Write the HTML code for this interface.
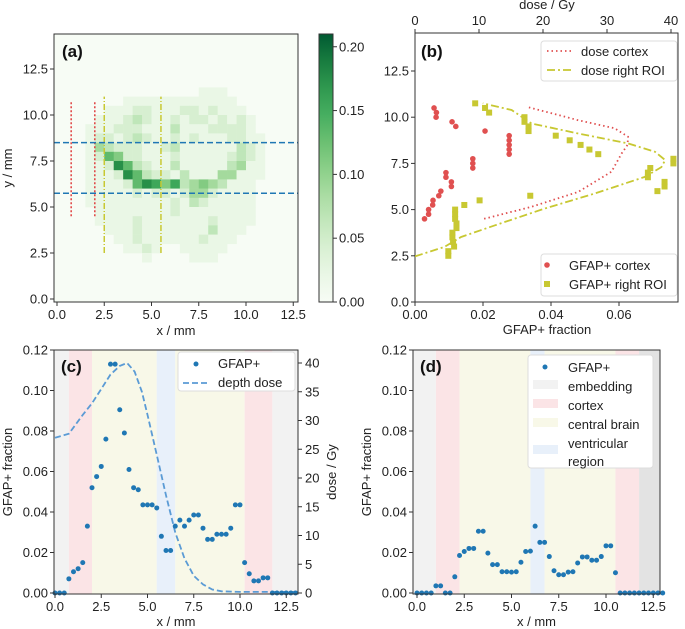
<!DOCTYPE html>
<html><head><meta charset="utf-8"><style>
html,body{margin:0;padding:0;background:#fff;}
svg{display:block;font-family:"Liberation Sans","DejaVu Sans",sans-serif;}
</style></head><body>
<svg id="fig" width="685" height="629" viewBox="0 0 685 629"></svg>
<script>
// ---------- DATA ----------
// Panel (a) heatmap: rows top (y 11.0-11.5) to bottom (y 2.0-2.5), cols x 1.0..11.5, step 0.5mm; digit*0.022 = GFAP+ fraction
const heatRows = [
"000000000000011100000",
"000001111111111110000",
"000111221112212111000",
"001112321121221212100",
"011122211131112222100",
"012212321121211122110",
"014322211231111113210",
"012652211121111123210",
"011286321131111134110",
"011128632213111441110",
"011112687573454311100",
"011111212212442111100",
"011111111121321111100",
"001111111121111111100",
"001111211111112111100",
"000111211111113111000",
"000011211111121110000",
"000001121001111100000",
"000000010000111000000"];
const cbTicks = [0, 0.05, 0.10, 0.15, 0.20];
// Panel (b)
const cortexY = [4.5,4.75,5.0,5.25,5.5,5.75,6.0,6.25,6.5,6.75,7.0,7.25,7.5,7.75,8.0,8.25,8.5,8.75,9.0,9.25,9.5,9.75,10.0,10.25,10.5];
const cortexGFAP = [0.0028,0.004,0.004,0.0052,0.0053,0.007,0.0076,0.0107,0.0107,0.0091,0.0091,0.017,0.017,0.017,0.0277,0.0277,0.0277,0.0277,0.0277,0.0206,0.012,0.0109,0.0062,0.0063,0.0056];
const roiY = [2.5,2.75,3.0,3.25,3.5,3.75,4.0,4.25,4.5,4.75,5.0,5.25,5.5,5.75,6.0,6.25,6.5,6.75,7.0,7.25,7.5,7.75,8.0,8.25,8.5,8.75,9.0,9.25,9.5,9.75,10.0,10.25,10.5,10.75];
const roiGFAP = [0.0098,0.0098,0.0115,0.0112,0.011,0.011,0.0122,0.0122,0.0118,0.0118,0.0118,0.0145,0.019,0.0339,0.0713,0.0734,0.0734,0.0685,0.0685,0.0692,0.076,0.076,0.0539,0.0513,0.0487,0.0455,0.0414,0.0334,0.0334,0.0322,0.0322,0.0218,0.0206,0.0177];
const doseCortexY = [4.5,5.15,5.96,7.05,8.04,8.5,8.94,9.4,9.84,10.53];
const doseCortexGy = [10.8,18.2,25.5,30.7,32.3,33.2,33.3,31.2,25.5,17.8];
const doseRoiY = [2.47,2.98,3.52,4.15,5.06,5.87,6.77,7.3,7.68,8.13,8.58,9.12,9.66,10.39,10.75];
const doseRoiGy = [0,4.6,7.2,12.5,20.3,28.1,35.9,38.5,39.1,37.5,33.3,25.5,18.2,15.1,10.6];
// Panel (c)
const cGFAP = [0,0,0,0.007,0.0105,0.012,0.015,0.033,0.052,0.0575,0.0625,0.076,0.113,0.113,0.0905,0.079,0.061,0.052,0.051,0.0435,0.0435,0.0435,0.042,0.028,0.021,0.021,0.033,0.036,0.033,0.036,0.0385,0.0385,0.032,0.0265,0.0265,0.029,0.029,0.029,0.032,0.0435,0.0435,0.015,0.0095,0.006,0.006,0.0075,0.0075,0,0,0,0,0,0];
const depthX = [0,0.75,1.5,2,2.5,3,3.5,3.9,4.3,4.7,5,5.5,6,6.5,7,7.5,8,8.5,9,10,11,12,13];
const depthGy = [27,27.7,31,33,35.5,38,39.5,40,38.5,35,31,24,17,10.5,6,3,1.5,0.6,0.3,0.2,0.2,0.2,0.2];
const cRegions = [[-0.3,0.75,'emb'],[0.75,2,'cor'],[2,5.5,'cen'],[5.5,6.5,'ven'],[6.5,10.25,'cen'],[10.25,11.75,'cor'],[11.75,13.3,'emb']];
// Panel (d)
const dGFAP = [0,0,0,0,0.0035,0.0035,0,0,0.008,0.0185,0.0205,0.022,0.022,0.0305,0.0305,0.0197,0.014,0.014,0.0105,0.0105,0.0103,0.0105,0.0152,0.0205,0.0207,0.033,0.025,0.025,0.018,0.011,0.009,0.009,0.0103,0.0105,0.0148,0.0178,0.0178,0.0162,0.0162,0.018,0.0233,0.0233,0.01,0,0,0,0,0,0,0,0,0,0];
const dRegions = [[-0.3,1,'emb'],[1,2.25,'cor'],[2.25,6,'cen'],[6,6.75,'ven'],[6.75,10.5,'cen'],[10.5,11.75,'cor'],[11.75,13.3,'emb2']];
const yTicksCD = [0,0.02,0.04,0.06,0.08,0.10,0.12];
const xTicksMM = [0,2.5,5,7.5,10,12.5];

// ---------- helpers ----------
const NS='http://www.w3.org/2000/svg';
const svg=document.getElementById('fig');
function mk(tag,attrs,parent){const e=document.createElementNS(NS,tag);for(const k in attrs)e.setAttribute(k,attrs[k]);(parent||svg).appendChild(e);return e;}
function txt(x,y,s,anchor,size,extra){const t=mk('text',Object.assign({x:x,y:y,'text-anchor':anchor||'middle','font-size':size||13,fill:'#222'},extra||{}));t.textContent=s;return t;}
const regionColor={emb:'#f2f2f2',cor:'#fbe4e6',cen:'#f8f8e8',ven:'#e8f0fa',emb2:'#e3e3e3'};
function greens(v){const stops=[[0,[247,252,245]],[0.03,[229,245,224]],[0.06,[199,233,192]],[0.09,[161,217,155]],[0.12,[116,196,118]],[0.15,[65,171,93]],[0.18,[35,139,69]],[0.21,[0,90,50]]];
 v=Math.max(0,Math.min(0.21,v));for(let i=1;i<stops.length;i++){if(v<=stops[i][0]){const a=stops[i-1],b=stops[i];const f=(v-a[0])/(b[0]-a[0]);const c=a[1].map((q,j)=>Math.round(q+(b[1][j]-q)*f));return 'rgb('+c.join(',')+')';}}return 'rgb(0,68,27)';}
function fmt(v,d){return v.toFixed(d);}

// ---------- Panel (a) ----------
const ax=v=>57+18.9*v, ay=v=>299-18.4*v;
mk('rect',{x:54,y:34,width:244,height:268,fill:'#f7fcf5'});
heatRows.forEach((row,j)=>{for(let i=0;i<row.length;i++){const d=+row[i];if(!d)continue;
 const x0=1+0.5*i, y1=11.5-0.5*j;
 const r=mk('rect',{x:ax(x0),y:ay(y1),width:ax(x0+0.5)-ax(x0)+0.3,height:ay(y1-0.5)-ay(y1)+0.3,fill:greens(d*0.022)});
 
 }});
[[0.75,'#e04040','2,2',4.5,10.7],[2.0,'#e04040','2,2',4.5,10.7],[2.5,'#c8c832','6,2,1,2',2.5,11],[5.5,'#c8c832','6,2,1,2',2.5,11]].forEach(l=>{
 const e=mk('line',{x1:ax(l[0]),x2:ax(l[0]),y1:ay(l[3]),y2:ay(l[4]),stroke:l[1],'stroke-width':1.5,'stroke-dasharray':l[2]});
 
 });
[8.5,5.75].forEach(y=>{const e=mk('line',{x1:54,x2:298,y1:ay(y),y2:ay(y),stroke:'#1f77b4','stroke-width':1.5,'stroke-dasharray':'6,3'});
 
 });
mk('rect',{x:54,y:34,width:244,height:268,fill:'none',stroke:'#333','stroke-width':1});
xTicksMM.forEach(v=>{mk('line',{x1:ax(v),x2:ax(v),y1:302,y2:306,stroke:'#333'});txt(ax(v),319,fmt(v,1));});
[0,2.5,5,7.5,10,12.5].forEach(v=>{mk('line',{x1:50,x2:54,y1:ay(v),y2:ay(v),stroke:'#333'});txt(48,ay(v)+4.5,fmt(v,1),'end');});
txt(176,335,'x / mm');
txt(12,168,'y / mm','middle',13,{transform:'rotate(-90 12 168)'});
txt(62,57,'(a)','start',17,{'font-weight':'bold',fill:'#111'});
// colorbar
const grad=mk('linearGradient',{id:'cbg',x1:0,y1:1,x2:0,y2:0},mk('defs',{}));
for(let k=0;k<=10;k++){mk('stop',{offset:k/10,'stop-color':greens(0.21*k/10)},grad);}
mk('rect',{x:319,y:34,width:14,height:268,fill:'url(#cbg)',stroke:'#333'});
const cy=v=>302-268*v/0.21;
cbTicks.forEach(v=>{mk('line',{x1:333,x2:337,y1:cy(v),y2:cy(v),stroke:'#333'});txt(339,cy(v)+4.5,fmt(v,2),'start');});

// ---------- Panel (b) ----------
const bx=v=>415+3400*v, by=v=>302-18.48*v, bd=v=>415+6.4*v;
mk('rect',{x:415,y:33,width:263,height:269,fill:'#fff',stroke:'#333'});
function pathFrom(xs,ys){return xs.map((x,i)=>(i?'L':'M')+x.toFixed(1)+','+ys[i].toFixed(1)).join('');}
const pc=mk('path',{d:pathFrom(doseCortexGy.map(bd),doseCortexY.map(by)),fill:'none',stroke:'#e05050','stroke-width':1.8,'stroke-dasharray':'1.5,3'});

const pr=mk('path',{d:pathFrom(doseRoiGy.map(bd),doseRoiY.map(by)),fill:'none',stroke:'#c8c832','stroke-width':1.8,'stroke-dasharray':'8,3,2,3'});

cortexGFAP.forEach((v,i)=>{const c=mk('circle',{cx:bx(v),cy:by(cortexY[i]),r:2.8,fill:'#e05050'});
 
 });
roiGFAP.forEach((v,i)=>{const c=mk('rect',{x:bx(v)-3,y:by(roiY[i])-3,width:6,height:6,fill:'#c8c832'});
 
 });
[0,0.02,0.04,0.06].forEach(v=>{mk('line',{x1:bx(v),x2:bx(v),y1:302,y2:306,stroke:'#333'});txt(bx(v),319,fmt(v,2));});
[0,2.5,5,7.5,10,12.5].forEach(v=>{mk('line',{x1:411,x2:415,y1:by(v),y2:by(v),stroke:'#333'});txt(409,by(v)+4.5,fmt(v,1),'end');});
[0,10,20,30,40].forEach(v=>{mk('line',{x1:bd(v),x2:bd(v),y1:29,y2:33,stroke:'#333'});txt(bd(v),25,String(v));});
txt(547,9,'dose / Gy');
txt(547,334,'GFAP+ fraction');
txt(421,57,'(b)','start',17,{'font-weight':'bold',fill:'#111'});
const lb1=mk('g',{});
mk('rect',{x:541,y:41,width:136,height:40,rx:3,fill:'#fff',stroke:'#ddd'},lb1);
mk('line',{x1:547,x2:573,y1:51,y2:51,stroke:'#e05050','stroke-width':1.8,'stroke-dasharray':'1.5,3'},lb1);
mk('line',{x1:547,x2:573,y1:70,y2:70,stroke:'#c8c832','stroke-width':1.8,'stroke-dasharray':'8,3,2,3'},lb1);
lb1.appendChild(txt(581,56,'dose cortex','start'));lb1.appendChild(txt(581,75,'dose right ROI','start'));
const lb2=mk('g',{});
mk('rect',{x:541,y:254,width:136,height:42,rx:3,fill:'#fff',stroke:'#ddd'},lb2);
mk('circle',{cx:547,cy:265,r:2.8,fill:'#e05050'},lb2);
mk('rect',{x:544,y:281,width:6,height:6,fill:'#c8c832'},lb2);
lb2.appendChild(txt(569,270,'GFAP+ cortex','start'));lb2.appendChild(txt(569,289,'GFAP+ right ROI','start'));

// ---------- Panels (c) & (d) ----------
function panelCD(opts){
 const X=v=>opts.x0+opts.kx*v, Y=v=>593-2025*v;
 const L=opts.left,R=opts.right;
 opts.regions.forEach(r=>{const a=Math.max(L,X(r[0])),b=Math.min(R,X(r[1]));
  const e=mk('rect',{x:a,y:350,width:b-a,height:244,fill:regionColor[r[2]]});
  
  });
 if(opts.dose){const D=v=>593-5.75*v;
  const p=mk('path',{d:pathFrom(depthX.map(X),depthGy.map(D)),fill:'none',stroke:'#5b9bd5','stroke-width':1.8,'stroke-dasharray':'6,3'});
  
  [0,5,10,15,20,25,30,35,40].forEach(v=>{mk('line',{x1:R,x2:R+4,y1:D(v),y2:D(v),stroke:'#333'});txt(R+7,D(v)+4.5,String(v),'start');});
  txt(336,472,'dose / Gy','middle',13,{transform:'rotate(-90 336 472)'});}
 opts.vals.forEach((v,i)=>{const c=mk('circle',{cx:X(i*0.25),cy:Y(v),r:2.5,fill:'#1f77b4'});
  
  });
 mk('rect',{x:L,y:350,width:R-L,height:244,fill:'none',stroke:'#333'});
 xTicksMM.forEach(v=>{mk('line',{x1:X(v),x2:X(v),y1:594,y2:598,stroke:'#333'});txt(X(v),611,fmt(v,1));});
 yTicksCD.forEach(v=>{mk('line',{x1:L-4,x2:L,y1:Y(v),y2:Y(v),stroke:'#333'});txt(L-6,Y(v)+4.5,fmt(v,2),'end');});
 txt((L+R)/2,626,'x / mm');
 const yl=L-42;txt(yl,472,'GFAP+ fraction','middle',13,{transform:'rotate(-90 '+yl+' 472)'});
 txt(L+7,372,opts.label,'start',17,{'font-weight':'bold',fill:'#111'});
}
panelCD({x0:55,kx:18.5,left:54,right:298,regions:cRegions,vals:cGFAP,dose:true,label:'(c)'});
panelCD({x0:417,kx:18.9,left:413,right:660,regions:dRegions,vals:dGFAP,dose:false,label:'(d)'});
// legend c
const lc=mk('g',{});
mk('rect',{x:178,y:352,width:117,height:39,rx:3,fill:'#fff',stroke:'#ddd'},lc);
mk('circle',{cx:196,cy:364,r:2.5,fill:'#1f77b4'},lc);
mk('line',{x1:183,x2:209,y1:383,y2:383,stroke:'#5b9bd5','stroke-width':1.8,'stroke-dasharray':'6,3'},lc);
lc.appendChild(txt(218,368,'GFAP+','start'));lc.appendChild(txt(218,387,'depth dose','start'));
// legend d
const ld=mk('g',{});
mk('rect',{x:528,y:355,width:125,height:113,rx:3,fill:'#fff',stroke:'#ddd'},ld);
mk('circle',{cx:545,cy:367,r:2.5,fill:'#1f77b4'},ld);
[[385,'emb'],[404,'cor'],[423,'cen'],[450,'ven']].forEach(q=>mk('rect',{x:533,y:q[0]-5,width:25,height:9,fill:regionColor[q[1]]},ld));
[['GFAP+',372],['embedding',391],['cortex',410],['central brain',429],['ventricular',448],['region',466]].forEach(q=>ld.appendChild(txt(568,q[1],q[0],'start')));
</script>
</body></html>
